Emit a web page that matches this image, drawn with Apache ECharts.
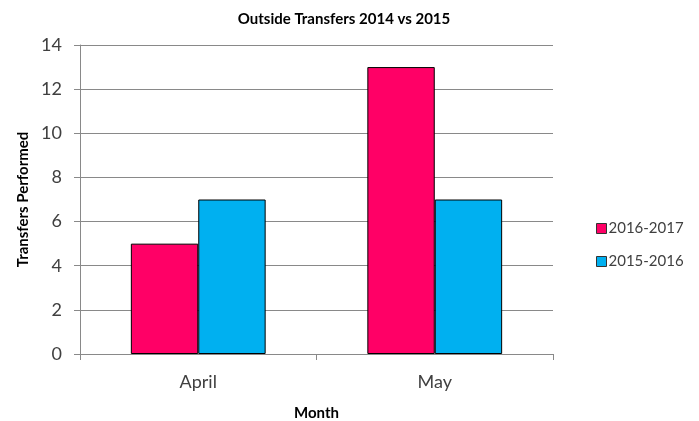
<!DOCTYPE html>
<html>
<head>
<meta charset="utf-8">
<script src="https://cdn.jsdelivr.net/npm/echarts@6/dist/echarts.min.js"></script>
<style>
  html, body { margin: 0; padding: 0; background: #fff; }
  #chart { width: 699px; height: 421px; }
</style>
</head>
<body>
<div id="chart"></div>
<script>
var chart = echarts.init(document.getElementById('chart'));

// data
var months = ['April', 'May'];
var seriesNames = ['2016-2017', '2015-2016'];
var values1617 = [5, 13];
var values1516 = [7, 7];
var yTicks = [0, 2, 4, 6, 8, 10, 12, 14];

var fontFamily = 'Lato, "Open Sans", sans-serif';
var gridGray = '#898989';

var option = {
    animation: false,
    backgroundColor: '#fff',
    textStyle: { fontFamily: fontFamily },
    title: {
        text: 'Outside Transfers 2014 vs 2015',
        left: 339,
        textAlign: 'center',
        top: 7,
        textStyle: { fontSize: 15, fontWeight: 'bold', color: '#000', fontFamily: fontFamily }
    },
    legend: {
        data: seriesNames,
        orient: 'vertical',
        left: 591,
        top: 216,
        icon: 'rect',
        itemWidth: 10,
        itemHeight: 10,
        itemGap: 18,
        itemStyle: { borderColor: '#333', borderWidth: 1 },
        textStyle: { fontSize: 15, color: '#404040', lineHeight: 15, padding: [0, 0, 0, -3] }
    },
    grid: {
        left: 80,
        right: 146,
        top: 45,
        bottom: 67,
        outerBoundsMode: 'none'
    },
    xAxis: {
        type: 'category',
        data: months,
        name: 'Month',
        nameLocation: 'middle',
        nameGap: 52,
        nameTextStyle: { fontSize: 15, fontWeight: 'bold', color: '#000' },
        axisLine: { lineStyle: { color: gridGray, width: 1 } },
        axisTick: { show: true, length: 6, alignWithLabel: false, lineStyle: { color: gridGray } },
        axisLabel: { fontSize: 18, color: '#404040', margin: 19 }
    },
    yAxis: {
        type: 'value',
        min: yTicks[0],
        max: yTicks[yTicks.length - 1],
        interval: 2,
        name: 'Transfers Performed',
        nameLocation: 'middle',
        nameGap: 48,
        nameTextStyle: { fontSize: 15, fontWeight: 'bold', color: '#000' },
        axisLine: { show: true, lineStyle: { color: gridGray, width: 1 } },
        axisTick: { show: true, length: 6, lineStyle: { color: gridGray } },
        axisLabel: { fontSize: 18, color: '#404040', margin: 18 },
        splitLine: { lineStyle: { color: gridGray, width: 1 } }
    },
    series: [
        {
            name: seriesNames[0],
            type: 'bar',
            data: values1617,
            barGap: '0%',
            barCategoryGap: '43%',
            itemStyle: { color: '#FF0066', borderColor: '#000', borderWidth: 1 }
        },
        {
            name: seriesNames[1],
            type: 'bar',
            data: values1516,
            barGap: '0%',
            barCategoryGap: '43%',
            itemStyle: { color: '#00B0F0', borderColor: '#000', borderWidth: 1 }
        }
    ]
};

chart.setOption(option);
</script>
</body>
</html>
